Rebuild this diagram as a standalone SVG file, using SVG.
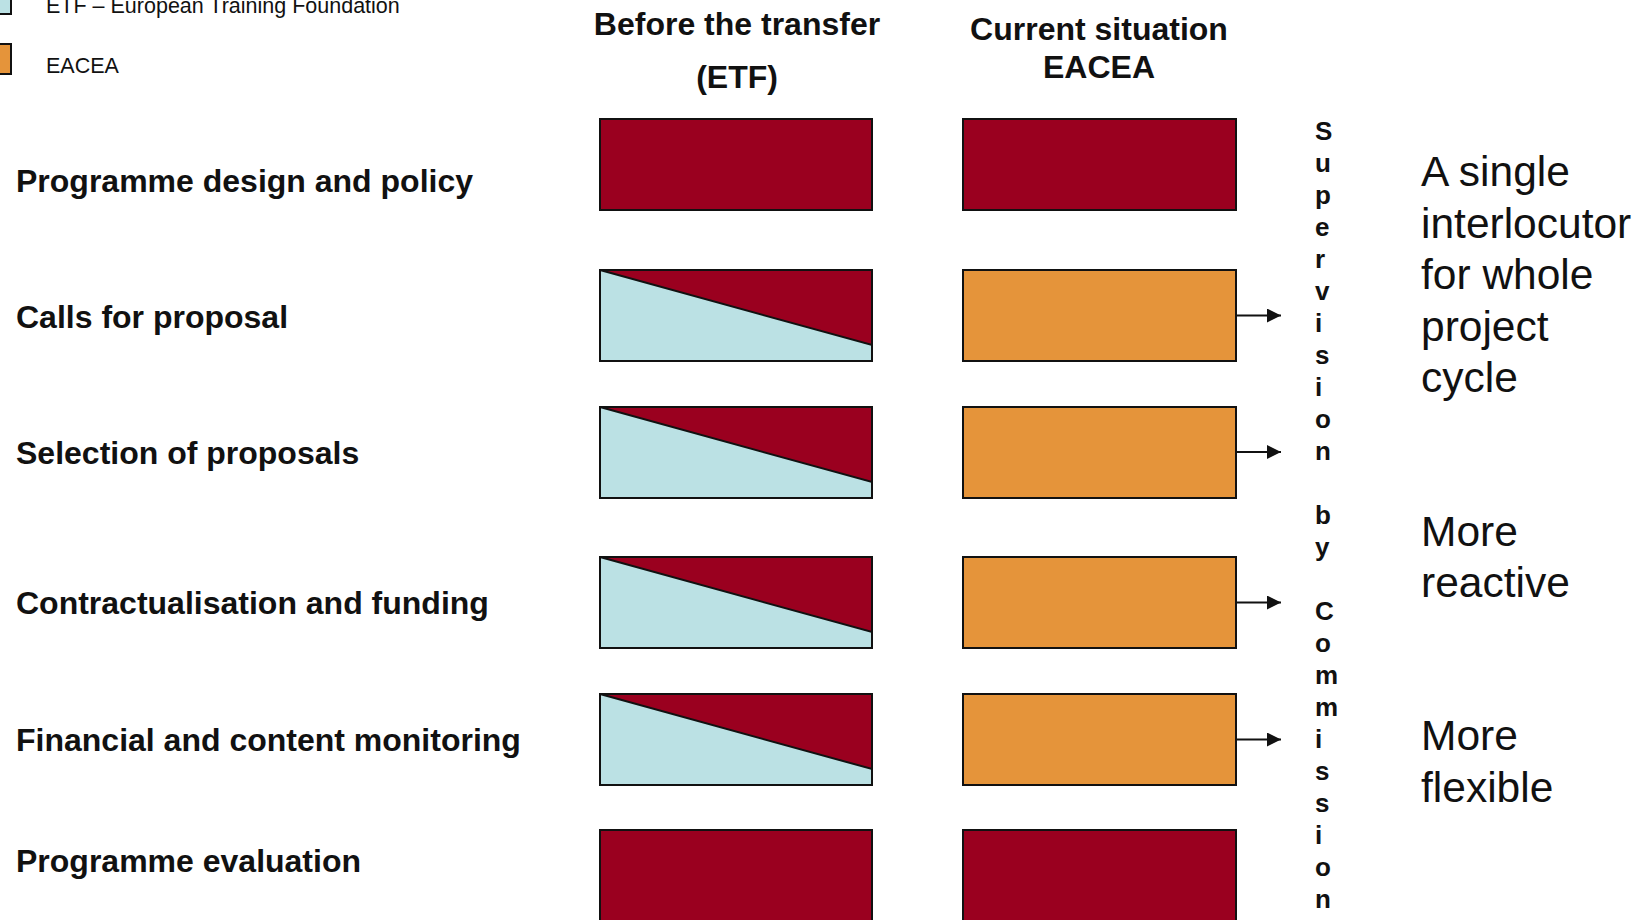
<svg xmlns="http://www.w3.org/2000/svg" width="1648" height="920" viewBox="0 0 1648 920">
<style>
.bg{fill:#ffffff}
.red{fill:#9A001F;stroke:#111;stroke-width:2}
.blue{fill:#BBE1E4;stroke:#111;stroke-width:2}
.orange{fill:#E5943A;stroke:#111;stroke-width:2}
.tri{fill:#9A001F;stroke:#111;stroke-width:2;stroke-linejoin:miter}
.leg{font-family:"Liberation Sans",Arial,sans-serif;font-size:21.5px;fill:#111}
.hdr{font-family:"Liberation Sans",Arial,sans-serif;font-size:32px;font-weight:bold;fill:#111;text-anchor:middle}
.lbl{font-family:"Liberation Sans",Arial,sans-serif;font-size:32px;font-weight:bold;fill:#111}
.vert{font-family:"Liberation Sans",Arial,sans-serif;font-size:26px;font-weight:bold;fill:#111}
.note{font-family:"Liberation Sans",Arial,sans-serif;font-size:42.5px;fill:#111}
.conn{stroke:#111;stroke-width:2;fill:none}
</style>
<defs>
<marker id="ah" markerUnits="userSpaceOnUse" markerWidth="14" markerHeight="14" viewBox="0 0 14 14" refX="14" refY="7" orient="auto">
<path d="M0,0 L14,7 L0,14 z" fill="#111"/>
</marker>
</defs>
<rect class="bg" x="0" y="0" width="1648" height="920"/>

<g id="legend">
<rect class="blue" x="-20" y="-16" width="31" height="30"/>
<text class="leg" x="46" y="13">ETF – European Training Foundation</text>
<rect class="orange" x="-20" y="44" width="31" height="30"/>
<text class="leg" x="46" y="73">EACEA</text>
</g>

<g id="header-before">
<text class="hdr" x="737" y="35">Before the transfer</text>
<text class="hdr" x="737" y="88">(ETF)</text>
</g>
<g id="header-current">
<text class="hdr" x="1099" y="40">Current situation</text>
<text class="hdr" x="1099" y="78">EACEA</text>
</g>

<g id="row-labels">
<text class="lbl" x="16" y="191.5">Programme design and policy</text>
<text class="lbl" x="16" y="327.5">Calls for proposal</text>
<text class="lbl" x="16" y="463.5">Selection of proposals</text>
<text class="lbl" x="16" y="614">Contractualisation and funding</text>
<text class="lbl" x="16" y="750.5">Financial and content monitoring</text>
<text class="lbl" x="16" y="871.5">Programme evaluation</text>
</g>

<g id="before-1"><rect class="red" x="600" y="119" width="272" height="91"/></g>
<g id="before-2"><rect class="blue" x="600" y="270" width="272" height="91"/><path class="tri" d="M600,270 L872,270 L872,345 Z"/></g>
<g id="before-3"><rect class="blue" x="600" y="407" width="272" height="91"/><path class="tri" d="M600,407 L872,407 L872,482 Z"/></g>
<g id="before-4"><rect class="blue" x="600" y="557" width="272" height="91"/><path class="tri" d="M600,557 L872,557 L872,632 Z"/></g>
<g id="before-5"><rect class="blue" x="600" y="694" width="272" height="91"/><path class="tri" d="M600,694 L872,694 L872,769 Z"/></g>
<g id="before-6"><rect class="red" x="600" y="830" width="272" height="100"/></g>

<g id="current-1"><rect class="red" x="963" y="119" width="273" height="91"/></g>
<g id="current-2"><rect class="orange" x="963" y="270" width="273" height="91"/></g>
<g id="current-3"><rect class="orange" x="963" y="407" width="273" height="91"/></g>
<g id="current-4"><rect class="orange" x="963" y="557" width="273" height="91"/></g>
<g id="current-5"><rect class="orange" x="963" y="694" width="273" height="91"/></g>
<g id="current-6"><rect class="red" x="963" y="830" width="273" height="100"/></g>

<g id="connectors">
<line class="conn" x1="1237" y1="315.5" x2="1281" y2="315.5" marker-end="url(#ah)"/>
<line class="conn" x1="1237" y1="452" x2="1281" y2="452" marker-end="url(#ah)"/>
<line class="conn" x1="1237" y1="602.5" x2="1281" y2="602.5" marker-end="url(#ah)"/>
<line class="conn" x1="1237" y1="739.5" x2="1281" y2="739.5" marker-end="url(#ah)"/>
</g>

<g id="supervision">
<text class="vert"><tspan x="1315" y="139.7">S</tspan><tspan x="1315" y="171.7">u</tspan><tspan x="1315" y="203.7">p</tspan><tspan x="1315" y="235.7">e</tspan><tspan x="1315" y="267.7">r</tspan><tspan x="1315" y="299.7">v</tspan><tspan x="1315" y="331.7">i</tspan><tspan x="1315" y="363.7">s</tspan><tspan x="1315" y="395.7">i</tspan><tspan x="1315" y="427.7">o</tspan><tspan x="1315" y="459.7">n</tspan><tspan x="1315" y="523.7">b</tspan><tspan x="1315" y="555.7">y</tspan><tspan x="1315" y="619.7">C</tspan><tspan x="1315" y="651.7">o</tspan><tspan x="1315" y="683.7">m</tspan><tspan x="1315" y="715.7">m</tspan><tspan x="1315" y="747.7">i</tspan><tspan x="1315" y="779.7">s</tspan><tspan x="1315" y="811.7">s</tspan><tspan x="1315" y="843.7">i</tspan><tspan x="1315" y="875.7">o</tspan><tspan x="1315" y="907.7">n</tspan></text>
</g>

<g id="notes">
<text class="note"><tspan x="1421" y="186">A single</tspan><tspan x="1421" y="237.5">interlocutor</tspan><tspan x="1421" y="289">for whole</tspan><tspan x="1421" y="340.5">project</tspan><tspan x="1421" y="392">cycle</tspan></text>
<text class="note"><tspan x="1421" y="545.5">More</tspan><tspan x="1421" y="597">reactive</tspan></text>
<text class="note"><tspan x="1421" y="750">More</tspan><tspan x="1421" y="801.5">flexible</tspan></text>
</g>
</svg>
